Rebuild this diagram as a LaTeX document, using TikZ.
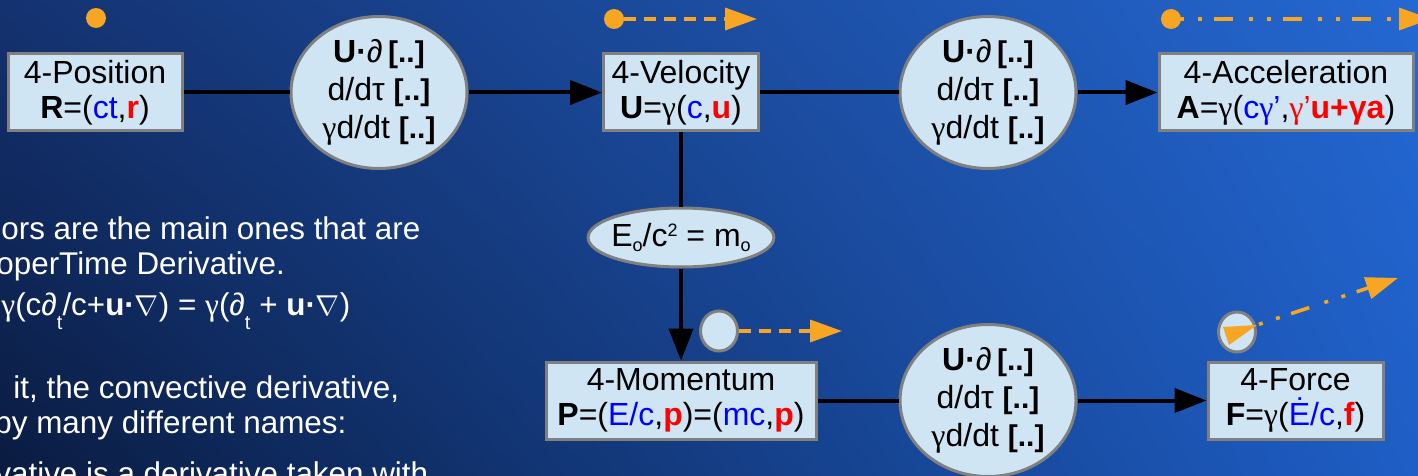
\documentclass[tikz,border=0pt]{standalone}
\usepackage{fontspec}
\setmainfont{Liberation Sans}
\newfontfamily\serifgk{Liberation Serif}
\usetikzlibrary{arrows.meta,shapes.geometric,shadings}

\definecolor{bgul}{RGB}{20,50,112}
\definecolor{bgur}{RGB}{36,104,210}
\definecolor{bgll}{RGB}{10,27,64}
\definecolor{bglr}{RGB}{30,94,198}
\definecolor{boxfill}{HTML}{CFE5F3}
\definecolor{boxline}{HTML}{808080}
\definecolor{trailc}{HTML}{F6A623}
\definecolor{vblue}{HTML}{0000FF}
\definecolor{vred}{HTML}{FF0000}

\newcommand{\gam}{{\serifgk γ}}
\newcommand{\blu}[1]{\textcolor{vblue}{#1}}
\newcommand{\redb}[1]{\textcolor{vred}{\textbf{#1}}}
\newcommand{\brk}{{\bfseries\fontsize{15}{15}\selectfont[..]}}
\newcommand{\subt}{\raisebox{-7pt}{\fontsize{10}{10}\selectfont t}}
\newcommand{\lowo}{\raisebox{-2.5pt}{\fontsize{9}{9}\selectfont o}}
\newcommand{\hightwo}{\raisebox{5pt}{\fontsize{9}{9}\selectfont 2}}

\begin{document}
\begin{tikzpicture}[x=0.5pt,y=-0.5pt,
    vecbox/.style={draw=boxline,fill=boxfill,line width=1.5pt,inner sep=1pt,
      align=center,font=\fontsize{16}{17.5}\selectfont},
    opnode/.style={ellipse,draw=boxline,fill=boxfill,line width=1.5pt,inner sep=0pt,
      align=center,minimum width=88pt,minimum height=76pt,
      font=\fontsize{16}{19}\selectfont},
    pin/.style={ellipse,draw=boxline,fill=boxfill,line width=1.5pt,inner sep=0pt,
      minimum width=18.5pt,minimum height=20pt},
    dot/.style={circle,fill=trailc,inner sep=0pt,minimum size=10pt},
    link/.style={line width=2pt},
    flow/.style={line width=2pt,-{Triangle[length=16pt,width=12pt]}},
    dashtrail/.style={trailc,line width=1.75pt,dash pattern=on 6pt off 4pt,
      -{Triangle[length=16pt,width=11pt]}},
    dottrail/.style={trailc,line width=1.75pt,
      dash pattern=on 9.5pt off 8pt on 2pt off 7pt on 2pt off 6pt,
      -{Triangle[length=16pt,width=11pt]}},
    note/.style={anchor=base west,inner sep=0pt,text=white,
      font=\fontsize{15.7}{18}\selectfont}]
  \useasboundingbox (0,0) rectangle (1418,476);
  \shade[upper left=bgul,upper right=bgur,lower left=bgll,lower right=bglr]
    (0,0) rectangle (1418,476);

  % text of the slide, cut off at the left edge
  \node[note] (n1) at (1,239) {ors are the main ones that are};
  \node[note] (n2) at (-4,274) {operTime Derivative.};
  \node[note] (n3) at (1,315) {\gam(c∂\subt/c+\textbf{u·}$\nabla$) = \gam(∂\subt{} + \textbf{u·}$\nabla$)};
  \node[note] (n4) at (13,398) {it, the convective derivative,};
  \node[note] (n5) at (-6,433) {by many different names:};
  \node[note] (n6) at (-5,484) {vative is a derivative taken with};

  % the 4-vectors
  \node[vecbox,minimum width=87pt,minimum height=38.5pt] (pos) at (95,92.5)
    {4-Position\\\textbf{R}=(\blu{ct},\redb{r})};
  \node[vecbox,minimum width=77.5pt,minimum height=38.5pt] (vel) at (681,92.5)
    {4-Velocity\\\textbf{U}=\gam(\blu{c},\redb{u})};
  \node[vecbox,minimum width=127pt,minimum height=38.5pt] (acc) at (1286,92.5)
    {4-Acceleration\\\textbf{A}=\gam(\blu{c\gam’},\textcolor{vred}{\gam’\textbf{u+γa}})};
  \node[vecbox,minimum width=135pt,minimum height=38.5pt] (mom) at (681,400.5)
    {4-Momentum\\\textbf{P}=(\blu{E/c},\redb{p})=(\blu{mc},\redb{p})};
  \node[vecbox,minimum width=87.5pt,minimum height=38.5pt] (frc) at (1295.5,400.5)
    {4-Force\\\textbf{F}=\gam(\blu{Ė/c},\redb{f})};

  % derivative operators
  \foreach \nm/\x/\y in {op1/379/92.5, op2/988/92.5, op3/988/400.5}
    \node[opnode] (\nm) at (\x,\y)
      {\textbf{U·}∂\,\brk\\d/dτ \brk\\\gam d/dt \brk};
  \node[ellipse,draw=boxline,fill=boxfill,line width=1.5pt,inner xsep=-2pt,
    inner ysep=0pt,minimum height=29.5pt,font=\fontsize{16}{16}\selectfont]
    (rest) at (681,237.5) {E\lowo/c\hightwo{} = m\lowo};

  % connectors
  \draw[link] (pos) -- (op1);
  \draw[flow] (op1) -- (vel);
  \draw[link] (vel) -- (op2);
  \draw[flow] (op2) -- (acc);
  \draw[link] (vel) -- (rest);
  \draw[flow] (rest) -- (mom);
  \draw[link] (mom) -- (op3);
  \draw[flow] (op3) -- (frc);

  % orange world-line markers
  \foreach \nm/\x/\y in {d1/96/18, d2/614/19, d3/1171/19}
    \node[dot] (\nm) at (\x,\y) {};
  \node[pin] (pm) at (719,331) {};
  \node[pin] (pf) at (1237,332) {};
  \coordinate (e2) at (757,19);
  \coordinate (e3) at (1431,19);
  \coordinate (em) at (842,331);
  \coordinate (f0) at (1257,325);
  \coordinate (ef) at (1398,278);
  \draw[dashtrail] (d2) -- (e2);
  \draw[dottrail,dash phase=18pt] (d3) -- (e3);
  \draw[dashtrail] (pm) -- (em);
  \draw[dottrail,dash phase=16.5pt] (f0) -- (ef);
  \fill[trailc] (f0) -- (1223,327) -- (1229,345) -- cycle;
\end{tikzpicture}
\end{document}
